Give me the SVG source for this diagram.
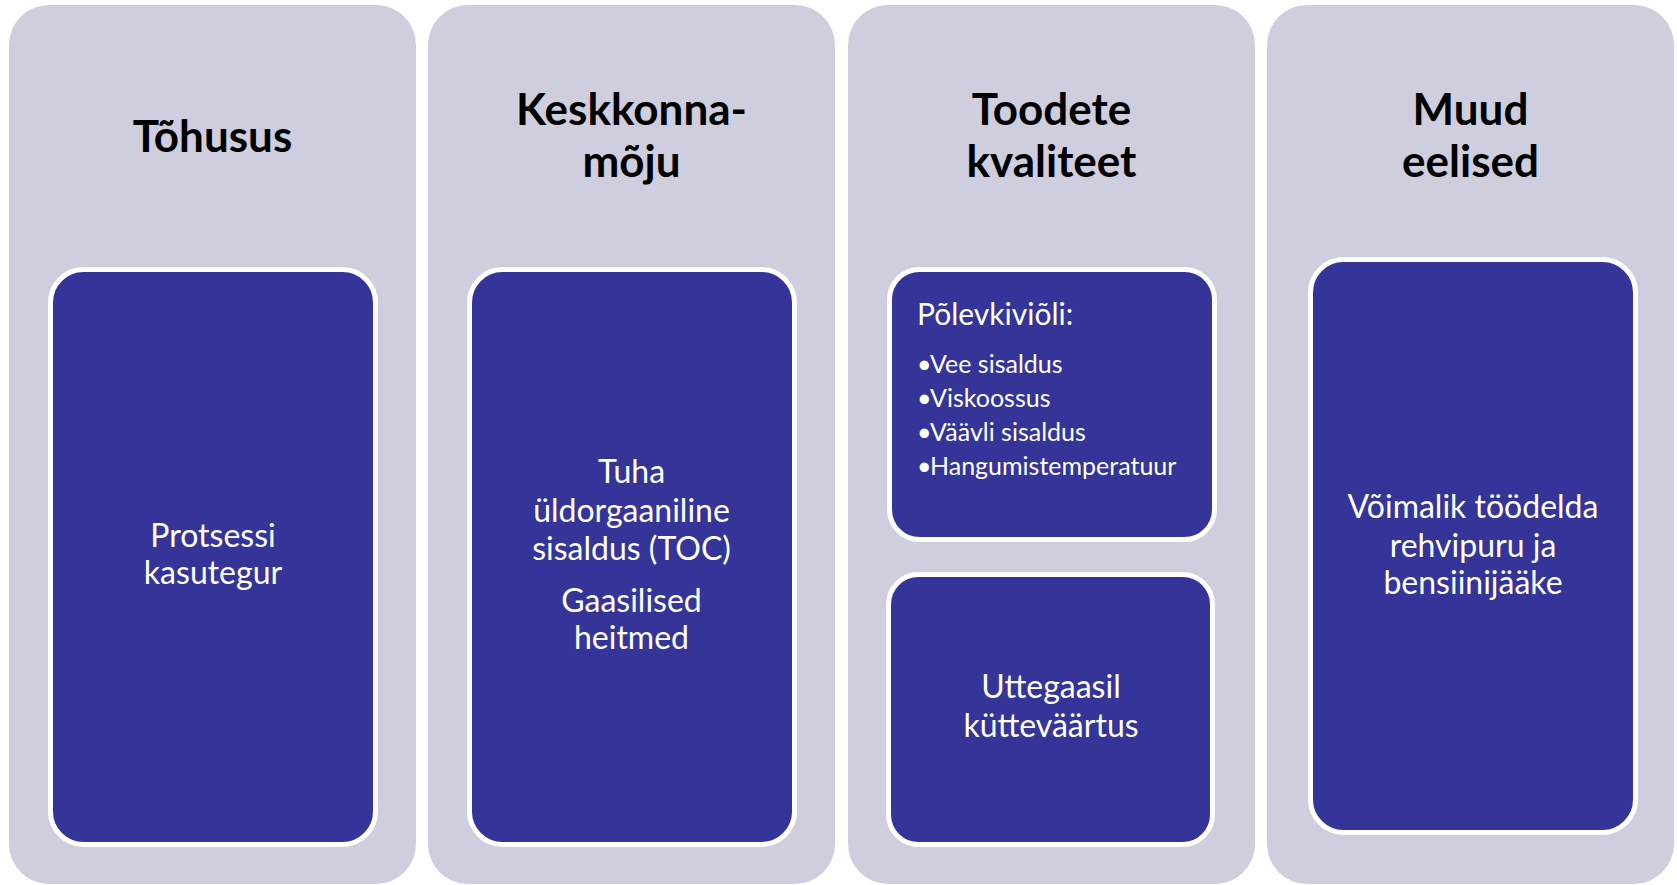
<svg xmlns="http://www.w3.org/2000/svg" width="1677" height="885" viewBox="0 0 1677 885">
<style>
.col{fill:#CECEDF;}
.box{fill:#353599;stroke:#FFFFFF;stroke-width:5;}
.title{font-family:Lato,"Liberation Sans",sans-serif;font-weight:700;font-size:44px;fill:#000000;text-anchor:middle;}
.body{font-family:Lato,"Liberation Sans",sans-serif;font-size:32px;fill:#FFFFFF;text-anchor:middle;}
.head{font-family:Lato,"Liberation Sans",sans-serif;font-size:30px;fill:#FFFFFF;}
.bul{font-family:Lato,"Liberation Sans",sans-serif;font-size:25px;fill:#FFFFFF;}
</style>
<rect x="0" y="0" width="1677" height="885" fill="#FFFFFF"/>
<g id="col-tohusus">
<rect class="col" x="9" y="5" width="407" height="879" rx="40"/>
<text class="title" x="212.5" y="152">Tõhusus</text>
<rect class="box" x="50.5" y="269.5" width="325" height="575" rx="33"/>
<text class="body" x="213" y="547">Protsessi</text>
<text class="body" x="213" y="584">kasutegur</text>
</g>
<g id="col-keskkonnamoju">
<rect class="col" x="428" y="5" width="407" height="879" rx="40"/>
<text class="title" x="631.5" y="125">Keskkonna-</text>
<text class="title" x="631.5" y="177">mõju</text>
<rect class="box" x="469.5" y="269.5" width="325" height="575" rx="33"/>
<text class="body" x="631.5" y="483">Tuha</text>
<text class="body" x="631.5" y="522">üldorgaaniline</text>
<text class="body" x="631.5" y="560">sisaldus (TOC)</text>
<text class="body" x="631.5" y="612">Gaasilised</text>
<text class="body" x="631.5" y="649">heitmed</text>
</g>
<g id="col-toodete-kvaliteet">
<rect class="col" x="848" y="5" width="407" height="879" rx="40"/>
<text class="title" x="1051.5" y="125">Toodete</text>
<text class="title" x="1051.5" y="177">kvaliteet</text>
<g id="box-polevkivioli">
<rect class="box" x="889.5" y="269.5" width="325" height="270" rx="30"/>
<text class="head" x="917" y="325">Põlevkiviõli:</text>
<text class="bul" y="373"><tspan x="917">•</tspan><tspan x="930">Vee sisaldus</tspan></text>
<text class="bul" y="407"><tspan x="917">•</tspan><tspan x="930">Viskoossus</tspan></text>
<text class="bul" y="441"><tspan x="917">•</tspan><tspan x="930">Väävli sisaldus</tspan></text>
<text class="bul" y="475"><tspan x="917">•</tspan><tspan x="930">Hangumistemperatuur</tspan></text>
</g>
<g id="box-uttegaas">
<rect class="box" x="888.5" y="574.5" width="324" height="270" rx="30"/>
<text class="body" x="1051" y="698">Uttegaasil</text>
<text class="body" x="1051" y="737">kütteväärtus</text>
</g>
</g>
<g id="col-muud-eelised">
<rect class="col" x="1267" y="5" width="407" height="879" rx="40"/>
<text class="title" x="1470.5" y="125">Muud</text>
<text class="title" x="1470.5" y="177">eelised</text>
<rect class="box" x="1310.5" y="259.5" width="325" height="573" rx="33"/>
<text class="body" x="1473" y="518">Võimalik töödelda</text>
<text class="body" x="1473" y="557">rehvipuru ja</text>
<text class="body" x="1473" y="594">bensiinijääke</text>
</g>
<g id="connectors"/>
</svg>
